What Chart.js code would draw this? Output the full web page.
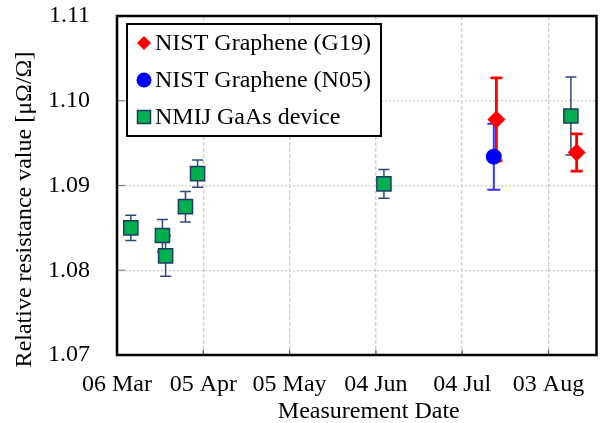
<!DOCTYPE html>
<html>
<head>
<meta charset="utf-8">
<script src="https://cdn.jsdelivr.net/npm/chart.js@4.4.0/dist/chart.umd.min.js"></script>
<style>
html, body { margin: 0; padding: 0; background: #fff; }
</style>
</head>
<body>
<canvas id="grafico" width="608" height="423"></canvas>
<script>
// days counted from 06 Mar
const tickDays = [0, 30, 60, 90, 120, 150];
const tickLabels = ['06 Mar', '05 Apr', '05 May', '04 Jun', '04 Jul', '03 Aug'];

const g19Days = [131.9, 159.8];
const g19Values = [1.0978, 1.0939];
const g19Errors = [0.0049, 0.0022];

const n05Days = [131.0];
const n05Values = [1.0934];
const n05Errors = [0.0039];

const gaasDays = [4.8, 15.8, 16.9, 23.8, 28.0, 92.8, 157.8];
const gaasValues = [1.0850, 1.0841, 1.0817, 1.0875, 1.0914, 1.0902, 1.0982];
const gaasErrors = [0.0015, 0.0019, 0.0024, 0.0018, 0.0016, 0.0017, 0.0046];

const serif = '"Liberation Serif", "Times New Roman", serif';
const toPoints = (xs, ys) => xs.map((d, i) => ({ x: d, y: ys[i] }));

const errorBars = {
    id: 'errorBars',
    beforeDatasetsDraw(chart) {
        const { ctx, scales: { x, y } } = chart;
        for (let k = chart.data.datasets.length - 1; k >= 0; k--) {
            const ds = chart.data.datasets[k];
            ctx.save();
            ctx.strokeStyle = ds.barColor;
            ctx.lineWidth = ds.barWidth;
            ds.data.forEach((p, i) => {
                const px = x.getPixelForValue(p.x);
                const top = y.getPixelForValue(p.y + ds.errors[i]);
                const bot = y.getPixelForValue(p.y - ds.errors[i]);
                const c = ds.capHalf;
                ctx.beginPath();
                ctx.moveTo(px, top); ctx.lineTo(px, bot);
                ctx.moveTo(px - c, top); ctx.lineTo(px + c, top);
                ctx.moveTo(px - c, bot); ctx.lineTo(px + c, bot);
                ctx.stroke();
            });
            ctx.restore();
        }
    }
};

function marker(ctx, style, cx, cy, r, fill, stroke) {
    ctx.beginPath();
    if (style === 'circle') {
        ctx.arc(cx, cy, r, 0, Math.PI * 2);
    } else if (style === 'rectRot') {
        ctx.moveTo(cx, cy - r); ctx.lineTo(cx + r, cy);
        ctx.lineTo(cx, cy + r); ctx.lineTo(cx - r, cy);
        ctx.closePath();
    } else {
        ctx.rect(cx - r, cy - r, 2 * r, 2 * r);
    }
    ctx.fillStyle = fill;
    ctx.fill();
    if (stroke) { ctx.strokeStyle = stroke; ctx.lineWidth = 1.5; ctx.stroke(); }
}

const frameAndLegend = {
    id: 'frameAndLegend',
    afterDraw(chart) {
        const { ctx, chartArea: a, scales: { x, y } } = chart;
        ctx.save();
        // small inner ticks
        ctx.lineWidth = 1.2;
        ctx.strokeStyle = '#555';
        x.ticks.forEach(t => {
            const px = x.getPixelForValue(t.value);
            ctx.beginPath(); ctx.moveTo(px, a.bottom); ctx.lineTo(px, a.bottom - 5); ctx.stroke();
        });
        ctx.strokeStyle = '#888';
        y.ticks.forEach(t => {
            const py = y.getPixelForValue(t.value);
            ctx.beginPath(); ctx.moveTo(a.left, py); ctx.lineTo(a.left + 8, py); ctx.stroke();
        });
        // frame
        ctx.strokeStyle = '#000';
        ctx.lineWidth = 2.5;
        ctx.strokeRect(a.left, a.top, a.right - a.left, a.bottom - a.top);

        // legend
        const bx = a.left + 10, by = a.top + 8, bw = 254, bh = 112;
        ctx.fillStyle = '#fff';
        ctx.fillRect(bx, by, bw, bh);
        ctx.lineWidth = 2;
        ctx.strokeRect(bx, by, bw, bh);
        ctx.font = '24px ' + serif;
        ctx.textBaseline = 'middle';
        ctx.textAlign = 'left';
        chart.data.datasets.forEach((ds, i) => {
            const cy = by + 19 + i * 37;
            marker(ctx, ds.pointStyle, bx + 17, cy, ds.legendR, ds.backgroundColor,
                ds.pointStyle === 'rect' ? ds.borderColor : null);
            ctx.fillStyle = '#000';
            ctx.fillText(ds.label, bx + 28, cy + 1);
        });
        ctx.restore();
    }
};

function dibujar() {
    new Chart(document.getElementById('grafico').getContext('2d'), {
        type: 'scatter',
        data: {
            datasets: [
                {
                    label: 'NIST Graphene (G19)',
                    data: toPoints(g19Days, g19Values),
                    errors: g19Errors,
                    pointStyle: 'rectRot',
                    pointRadius: 9,
                    backgroundColor: '#ff0000',
                    borderColor: '#ff0000',
                    borderWidth: 0,
                    barColor: '#ff0000', barWidth: 2.8, capHalf: 6,
                    legendR: 7
                },
                {
                    label: 'NIST Graphene (N05)',
                    data: toPoints(n05Days, n05Values),
                    errors: n05Errors,
                    pointStyle: 'circle',
                    pointRadius: 8,
                    backgroundColor: '#0000ff',
                    borderColor: '#0000ff',
                    borderWidth: 0,
                    barColor: '#3535ff', barWidth: 2, capHalf: 6.5,
                    legendR: 7.5
                },
                {
                    label: 'NMIJ GaAs device',
                    data: toPoints(gaasDays, gaasValues),
                    errors: gaasErrors,
                    pointStyle: 'rect',
                    pointRadius: 10,
                    backgroundColor: '#00b050',
                    borderColor: '#1f3a64',
                    borderWidth: 1.5,
                    barColor: '#2e4a78', barWidth: 1.5, capHalf: 5.5,
                    legendR: 6.5
                }
            ]
        },
        options: {
            responsive: false,
            animation: false,
            devicePixelRatio: 1,
            layout: { padding: { top: 16, right: 2, left: 0, bottom: 0 } },
            plugins: { legend: { display: false }, tooltip: { enabled: false } },
            scales: {
                x: {
                    type: 'linear',
                    min: 0,
                    max: 166.7,
                    afterBuildTicks: axis => { axis.ticks = tickDays.map(v => ({ value: v })); },
                    afterFit: s => { s.height = 68; s.paddingLeft = 0; s.paddingRight = 0; },
                    ticks: {
                        callback: v => tickLabels[tickDays.indexOf(v)],
                        font: { family: serif, size: 24, lineHeight: 1 },
                        color: '#000',
                        padding: 18,
                        maxRotation: 0,
                        autoSkip: false
                    },
                    grid: { color: '#cfcfcf', lineWidth: 1.4, drawTicks: false },
                    border: { display: false, dash: [4, 2] },
                    title: {
                        display: true,
                        text: '\u00a0\u00a0\u00a0\u00a0Measurement Date',
                        font: { family: serif, size: 24, lineHeight: 1 },
                        color: '#000',
                        padding: { top: 0, bottom: -1 }
                    }
                },
                y: {
                    min: 1.07,
                    max: 1.11,
                    afterFit: s => { s.width = 117; s.paddingTop = 0; s.paddingBottom = 0; },
                    ticks: {
                        stepSize: 0.01,
                        callback: v => v.toFixed(2),
                        font: { family: serif, size: 24, lineHeight: 1 },
                        color: '#000',
                        padding: 27
                    },
                    grid: { color: '#cfcfcf', lineWidth: 1.4, drawTicks: false },
                    border: { display: false, dash: [2, 2] },
                    title: {
                        display: true,
                        text: 'Relative resistance value [\u03bc\u03a9/\u03a9]\u00a0\u00a0\u00a0\u00a0\u00a0\u00a0\u00a0\u00a0',
                        font: { family: serif, size: 24, lineHeight: 1 },
                        color: '#000',
                        padding: { top: 13, bottom: 0 }
                    }
                }
            }
        },
        plugins: [errorBars, frameAndLegend]
    });
}

document.fonts.load('24px "Liberation Serif"').then(dibujar, dibujar);
</script>
</body>
</html>
